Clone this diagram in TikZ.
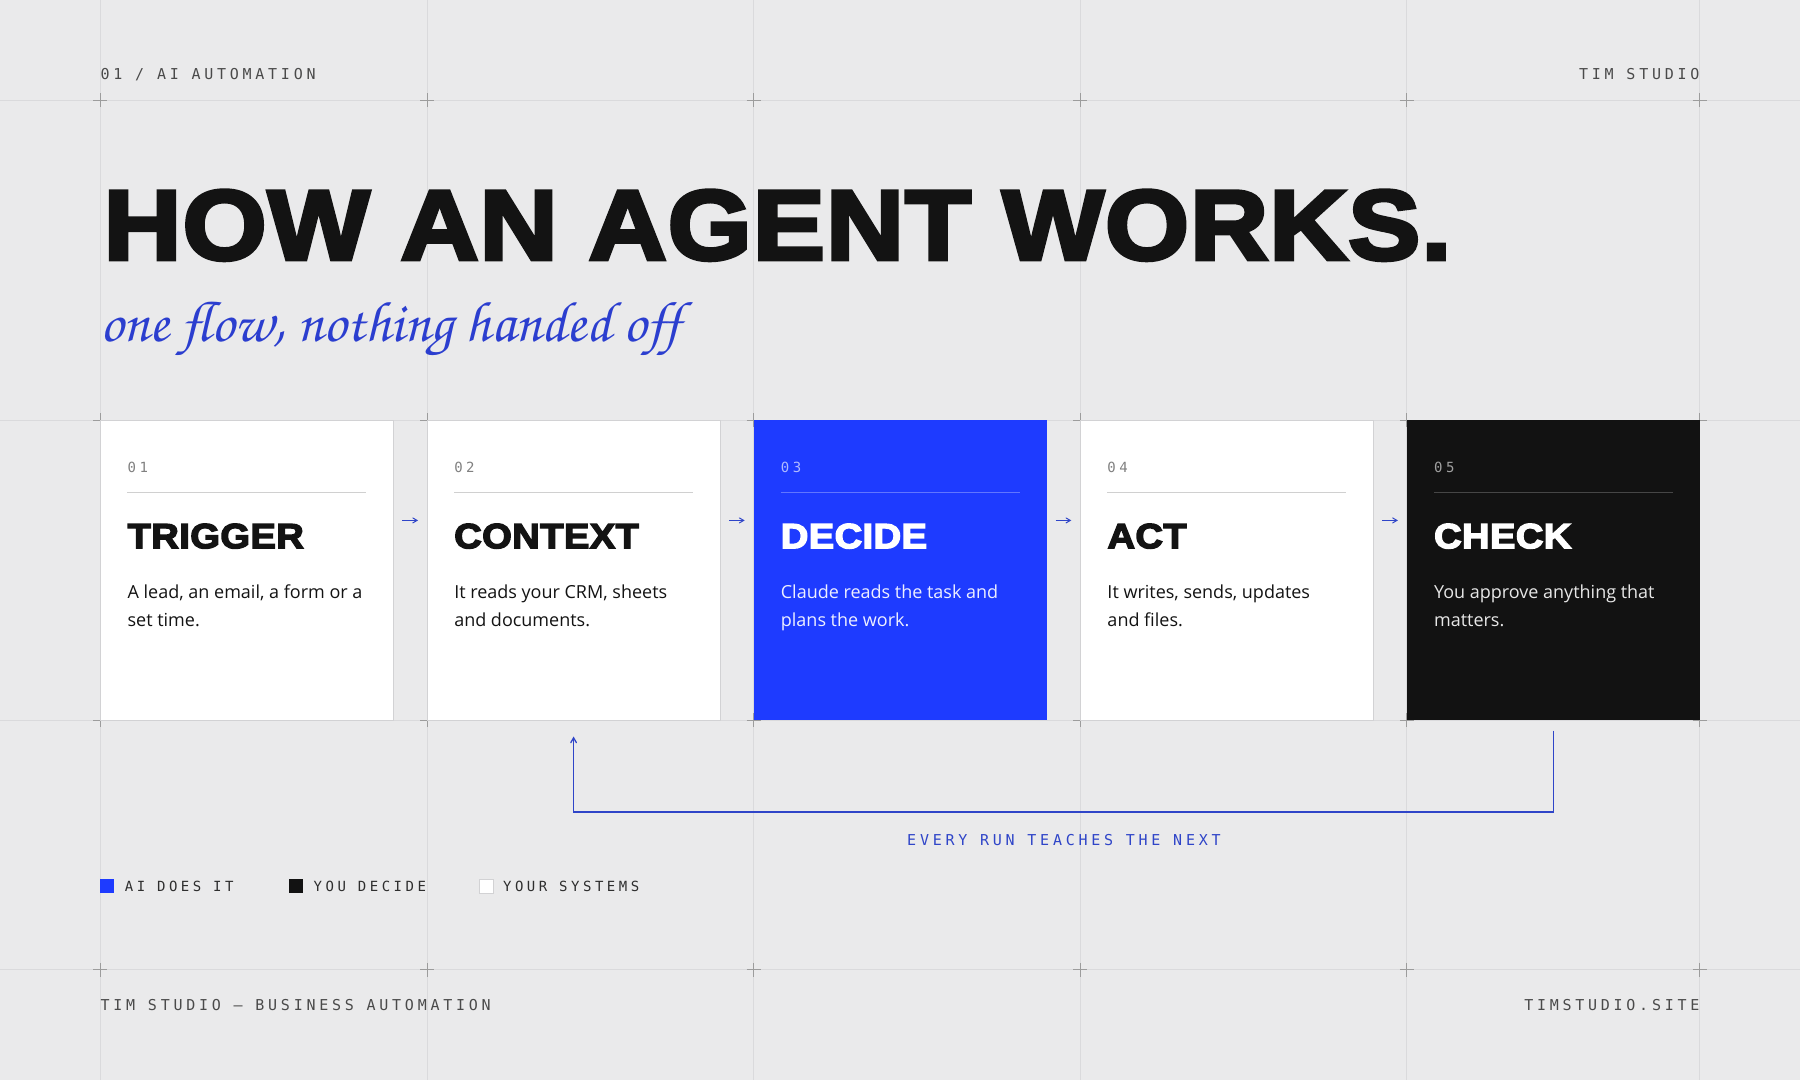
\documentclass[tikz,border=0pt]{standalone}
\usepackage[T1]{fontenc}
\usepackage{fontspec}
\setmainfont{Open Sans}
\newfontfamily\heavyfont{Liberation Sans}[BoldFeatures={FakeBold=4,FakeStretch=1.09,LetterSpace=1.2}]
\newfontfamily\monofont{DejaVu Sans Mono}[LetterSpace=25]
\newcommand{\handfont}{\fontencoding{T1}\fontfamily{pzc}\fontseries{mb}\fontshape{it}\selectfont}
\usetikzlibrary{arrows,positioning}

\definecolor{paper}{HTML}{EAEAEB}
\definecolor{gridc}{HTML}{DADADC}
\definecolor{markc}{HTML}{9C9C9C}
\definecolor{ink}{HTML}{131313}
\definecolor{cardblue}{HTML}{1E3BFF}
\definecolor{cardblack}{HTML}{121212}
\definecolor{cardline}{HTML}{D2D2D4}
\definecolor{ruleline}{HTML}{D0D0D0}
\definecolor{numgrey}{HTML}{808080}
\definecolor{accent}{HTML}{2F45C8}
\definecolor{scriptc}{HTML}{2B3ECF}
\definecolor{tagc}{HTML}{4A4A4A}
\definecolor{legc}{HTML}{2E2E2E}

\begin{document}
\begin{tikzpicture}[x=1pt,y=-1pt,
  card/.style={anchor=north west,minimum width=292.8pt,minimum height=300pt,inner sep=0pt},
  num/.style={anchor=base west,inner sep=0pt,font=\monofont\fontsize{14}{14}\selectfont,text=numgrey},
  ttl/.style={anchor=base west,inner sep=0pt,font=\heavyfont\bfseries\fontsize{35}{35}\selectfont,text=ink},
  body/.style={anchor=base west,inner sep=0pt,align=left,font=\fontsize{18}{28}\selectfont,text=ink},
  rule/.style={draw=ruleline,line width=1.2pt},
  tag/.style={inner sep=0pt,font=\monofont\fontsize{15}{15}\selectfont,text=tagc},
  leg/.style={inner sep=0pt,font=\monofont\fontsize{14}{14}\selectfont,text=legc,anchor=west},
  swatch/.style={minimum size=14pt,inner sep=0pt},
  flow/.style={->,>=angle 60,draw=accent,line width=1.3pt},
  gridline/.style={draw=gridc,line width=1pt}]

  % paper and grid
  \fill[paper] (0,0) rectangle (1800,1080);
  \draw[gridline] (100,0) -- (100,1080) (426.8,0) -- (426.8,1080) (753.6,0) -- (753.6,1080)
    (1080.4,0) -- (1080.4,1080) (1407.2,0) -- (1407.2,1080) (1700,0) -- (1700,1080);
  \draw[gridline] (0,100) -- (1800,100) (0,420) -- (1800,420) (0,720) -- (1800,720) (0,970) -- (1800,970);
  \draw[markc,line width=1pt] plot[only marks,mark=+,mark size=7pt] coordinates {
    (100,100) (426.8,100) (753.6,100) (1080.4,100) (1407.2,100) (1700,100)
    (100,420) (426.8,420) (753.6,420) (1080.4,420) (1407.2,420) (1700,420)
    (100,720) (426.8,720) (753.6,720) (1080.4,720) (1407.2,720) (1700,720)
    (100,970) (426.8,970) (753.6,970) (1080.4,970) (1407.2,970) (1700,970)};

  % header and footer
  \node[tag,anchor=base west] (head) at (100,79) {01 / AI AUTOMATION};
  \node[tag,anchor=base east] (brand) at (1700,79) {TIM STUDIO};
  \node[tag,anchor=base west] (foot) at (100,1011) {TIM STUDIO — BUSINESS AUTOMATION};
  \node[tag,anchor=base east] (site) at (1700,1011) {TIMSTUDIO.SITE};

  % title
  \node[anchor=base west,inner sep=0pt,text=ink,
    font=\heavyfont\bfseries\fontsize{99}{99}\selectfont] (title) at (103,259) {HOW AN AGENT WORKS.};
  \node[anchor=base west,inner sep=0pt,text=scriptc] (sub) at (100,341)
    {\resizebox{580pt}{!}{\handfont one flow, nothing handed off}};

  % the five steps
  \node[card,fill=white,draw=cardline] (c1) at (100,420) {};
  \node[card,fill=white,draw=cardline] (c2) at (426.8,420) {};
  \node[card,fill=cardblue] (c3) at (753.6,420) {};
  \node[card,fill=white,draw=cardline] (c4) at (1080.4,420) {};
  \node[card,fill=cardblack] (c5) at (1407.2,420) {};

  \node[num] (n1) at (127,472) {01};
  \draw[rule] (127,492) -- (366,492);
  \node[ttl] (t1) at (127,548) {TRIGGER};
  \node[body] (b1) at (127,626) {A lead, an email, a form or a\\set time.};

  \node[num] (n2) at (453.8,472) {02};
  \draw[rule] (453.8,492) -- (692.8,492);
  \node[ttl] (t2) at (453.8,548) {CONTEXT};
  \node[body] (b2) at (453.8,626) {It reads your CRM, sheets\\and documents.};

  \node[num,text=white!65!cardblue] (n3) at (780.6,472) {03};
  \draw[rule,draw=white!30!cardblue] (780.6,492) -- (1019.6,492);
  \node[ttl,text=white] (t3) at (780.6,548) {DECIDE};
  \node[body,text=white!92!cardblue] (b3) at (780.6,626) {Claude reads the task and\\plans the work.};

  \node[num] (n4) at (1107.4,472) {04};
  \draw[rule] (1107.4,492) -- (1346.4,492);
  \node[ttl] (t4) at (1107.4,548) {ACT};
  \node[body] (b4) at (1107.4,626) {It writes, sends, updates\\and files.};

  \node[num,text=white!60!cardblack] (n5) at (1434.2,472) {05};
  \draw[rule,draw=white!22!cardblack] (1434.2,492) -- (1673.2,492);
  \node[ttl,text=white] (t5) at (1434.2,548) {CHECK};
  \node[body,text=white!90!cardblack] (b5) at (1434.2,626) {You approve anything that\\matters.};

  % arrows between steps
  \draw[flow,line width=1pt] ([xshift=9pt,yshift=50pt]c1.east) -- ([xshift=-9pt,yshift=50pt]c2.west);
  \draw[flow,line width=1pt] ([xshift=9pt,yshift=50pt]c2.east) -- ([xshift=-9pt,yshift=50pt]c3.west);
  \draw[flow,line width=1pt] ([xshift=9pt,yshift=50pt]c3.east) -- ([xshift=-9pt,yshift=50pt]c4.west);
  \draw[flow,line width=1pt] ([xshift=9pt,yshift=50pt]c4.east) -- ([xshift=-9pt,yshift=50pt]c5.west);

  % feedback loop
  \coordinate (turn) at (1063,812);
  \draw[flow] ([yshift=-10pt]c5.south) |- (turn) -| ([yshift=-16pt]c2.south);
  \node[tag,text=accent,anchor=base] (lesson) at (1064,845) {EVERY RUN TEACHES THE NEXT};

  % legend
  \node[swatch,fill=cardblue] (s1) at (107,886) {};
  \node[leg,right=10pt of s1] (l1) {AI DOES IT};
  \node[swatch,fill=cardblack] (s2) at (296,886) {};
  \node[leg,right=10pt of s2] (l2) {YOU DECIDE};
  \node[swatch,fill=white,draw=cardline] (s3) at (485.5,886) {};
  \node[leg,right=10pt of s3] (l3) {YOUR SYSTEMS};
\end{tikzpicture}
\end{document}
